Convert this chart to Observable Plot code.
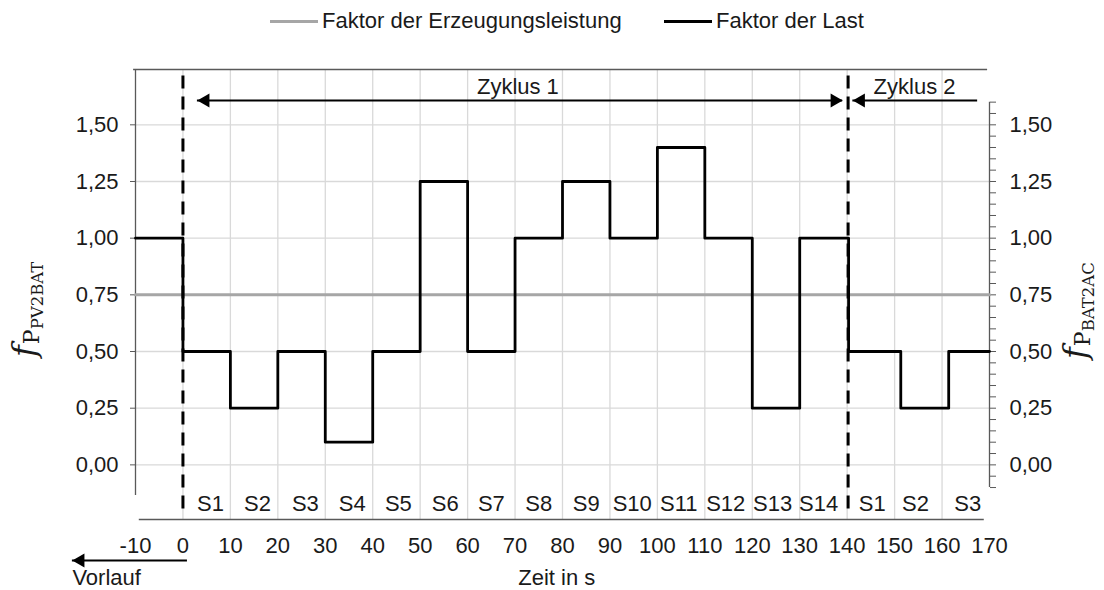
<!DOCTYPE html>
<html>
<head>
<meta charset="utf-8">
<script src="https://cdn.jsdelivr.net/npm/d3@7"></script>
<script src="https://cdn.jsdelivr.net/npm/@observablehq/plot@0.6"></script>
<style>
  html, body { margin: 0; padding: 0; background: #fff; }
  #wrap { position: relative; width: 1104px; height: 590px; font-family: "Liberation Sans", Arial, sans-serif; color: #1a1a1a; }
  #legend { position: relative; width: 1104px; height: 45px; font-size: 22px; }
  .sw { position: absolute; top: 20px; width: 48px; height: 3px; }
  .lt { position: absolute; top: 8px; line-height: 26px; white-space: nowrap; }
</style>
</head>
<body>
<div id="wrap">
  <div id="legend">
    <div class="sw" style="left:270px;background:#a6a6a6"></div>
    <div class="lt" style="left:322px">Faktor der Erzeugungsleistung</div>
    <div class="sw" style="left:664px;background:#000"></div>
    <div class="lt" style="left:716px">Faktor der Last</div>
  </div>
  <div id="chart"></div>
</div>
<script>
// ---- data ----
const stepTimes  = [-10, 0, 10, 20, 30, 40, 50, 60, 70, 80, 90, 100, 110, 120, 130, 140.3, 151.3, 161.4, 170];
const lastFactor = [1.0, 0.5, 0.25, 0.5, 0.1, 0.5, 1.25, 0.5, 1.0, 1.25, 1.0, 1.4, 1.0, 0.25, 1.0, 0.5, 0.25, 0.5, 0.5];
const erzeugungTimes  = [-10, 170];
const erzeugungFactor = [0.75, 0.75];
const segLabels  = ["S1","S2","S3","S4","S5","S6","S7","S8","S9","S10","S11","S12","S13","S14","S1","S2","S3"];
const segCenters = [5.8, 15.7, 25.8, 35.7, 45.4, 55.3, 65, 75, 85, 94.7, 104.5, 114.4, 124.3, 134, 145.3, 154.4, 165.4];
const xTicks = d3.range(-10, 171, 10);
const yTicks = [0, 0.25, 0.5, 0.75, 1.0, 1.25, 1.5];
const yMinorTicks = d3.range(-2, 33).map(i => +(i * 0.05).toFixed(2));
const cycleBounds = [0, 140.2];
const cycles = [
  {label: "Zyklus 1", x1: 3.05, x2: 139.05, xText: 70.6, heads: ["left", "right"]},
  {label: "Zyklus 2", x1: 141.2, x2: 167.5, xText: 154.2, heads: ["left"]}
];
const vorlauf = {label: "Vorlauf", x1: -23.3, x2: 0.95};
const xLabel = "Zeit in s";

// ---- table building ----
const lastData = stepTimes.map((t, i) => ({t, v: lastFactor[i]}));
const erzData = erzeugungTimes.map((t, i) => ({t, v: erzeugungFactor[i]}));
const segData = segLabels.map((s, i) => ({s, x: segCenters[i]}));
const fmt = d => d3.format(".2f")(d).replace(".", ",");

const yTop = 1.744, yBot = -0.241;
const yArrow = 1.607, yCycleText = 1.665, ySeg = -0.173;
const yVorArrow = -0.422, yBottomText = -0.50;
const axisColor = "#595959", gridColor = "#d9d9d9";
const FS = 22;

const arrowHeads = [];
cycles.forEach(c => {
  c.heads.forEach(h => arrowHeads.push(h === "left" ? {x: c.x1, dir: -90, dx: 8} : {x: c.x2, dir: 90, dx: -8}));
});
arrowHeads.push({x: vorlauf.x1, dir: -90, dx: 8, y: yVorArrow});

const plot = Plot.plot({
  width: 1104,
  height: 545,
  marginTop: 24,
  marginBottom: 71,
  marginLeft: 135,
  marginRight: 115,
  style: {fontFamily: "'Liberation Sans', Arial, sans-serif", fontSize: FS + "px", color: "#1a1a1a", background: "#fff"},
  x: {domain: [-10, 170]},
  y: {domain: [yBot, yTop]},
  marks: [
    // grid
    Plot.ruleY(yTicks, {x1: -10, x2: 170, stroke: gridColor, strokeWidth: 1.3}),
    Plot.ruleX(xTicks.filter(d => d > -10 && d < 170), {y1: yBot, y2: yTop, stroke: gridColor, strokeWidth: 1.3}),
    // frame pieces
    Plot.ruleY([yTop], {x1: -10.4, x2: 169.6, stroke: axisColor, strokeWidth: 1.3}),
    Plot.ruleX([-10], {y1: -0.135, y2: yTop, stroke: axisColor, strokeWidth: 1.3}),
    Plot.ruleX([170], {y1: -0.1, y2: 1.6, stroke: axisColor, strokeWidth: 1.3}),
    Plot.ruleY([yBot], {x1: -9.2, x2: 168.9, stroke: axisColor, strokeWidth: 1.3}),
    // axes
    Plot.axisY(yTicks, {anchor: "left", tickSize: 5, tickPadding: 12, tickFormat: fmt, stroke: axisColor, fill: "#1a1a1a", fontSize: FS, label: null}),
    Plot.axisY(yMinorTicks, {anchor: "right", tickSize: 6, tickPadding: 14, stroke: axisColor, fill: "#1a1a1a", fontSize: FS, label: null,
      tickFormat: d => (d >= 0 && d <= 1.5 && Math.abs(d * 4 - Math.round(d * 4)) < 1e-6) ? fmt(d) : ""}),
    Plot.axisX(xTicks, {anchor: "bottom", tickSize: 0, tickPadding: 18, fill: "#1a1a1a", fontSize: FS, label: null, tickFormat: d => String(d)}),
    // series
    Plot.line(erzData, {x: "t", y: "v", stroke: "#a6a6a6", strokeWidth: 3}),
    Plot.line(lastData, {x: "t", y: "v", curve: "step-after", stroke: "#000", strokeWidth: 2.8}),
    // cycle boundaries
    Plot.ruleX(cycleBounds, {y1: -0.195, y2: 1.729, stroke: "#000", strokeWidth: 3, strokeDasharray: "13,8"}),
    // segment labels
    Plot.text(segData, {x: "x", y: ySeg, text: "s", fontSize: FS, fill: "#1a1a1a"}),
    // cycle arrows
    Plot.ruleY(cycles, {y: yArrow, x1: "x1", x2: "x2", stroke: "#000", strokeWidth: 2}),
    Plot.text(cycles, {x: "xText", y: yCycleText, text: "label", fontSize: FS, fill: "#1a1a1a"}),
    Plot.ruleY([vorlauf], {y: yVorArrow, x1: "x1", x2: "x2", stroke: "#000", strokeWidth: 2}),
    Plot.dot(arrowHeads, {x: "x", y: d => d.y ?? yArrow, symbol: "triangle", r: 5.2, fill: "#000", stroke: "none", rotate: "dir",
      render: (index, scales, values, dims, ctx, next) => {
        const g = next(index, scales, values, dims, ctx);
        d3.select(g).selectAll("path").each(function(_, j) {
          const i = index[j];
          const el = d3.select(this);
          const tr = el.attr("transform") || "";
          el.attr("transform", `translate(${arrowHeads[i].dx},0) ` + tr);
        });
        return g;
      }}),
    Plot.text([vorlauf], {x: "x1", y: yBottomText, text: "label", textAnchor: "start", fontSize: FS, fill: "#1a1a1a"}),
    Plot.text([xLabel], {x: 78.8, y: yBottomText, text: d => d, fontSize: FS, fill: "#1a1a1a"})
  ]
});

// y-axis titles with subscripts
const svg = d3.select(plot);
function title(x, y, sub1, sub2) {
  const t = svg.append("text")
    .attr("transform", `translate(${x},${y}) rotate(-90)`)
    .attr("font-family", "'DejaVu Serif', 'Liberation Serif', serif")
    .attr("fill", "#1a1a1a")
    .attr("text-anchor", "start");
  t.append("tspan").attr("font-style", "italic").attr("font-size", 32).text("f");
  t.append("tspan").attr("font-size", 22).attr("dy", 4).attr("dx", 1).text(sub1);
  t.append("tspan").attr("font-size", 16.5).attr("dy", 4).text(sub2);
}
title(35, 357 - 45, "P", "PV2BAT");
title(1086, 359 - 45, "P", "BAT2AC");

document.getElementById("chart").appendChild(plot);
</script>
</body>
</html>
